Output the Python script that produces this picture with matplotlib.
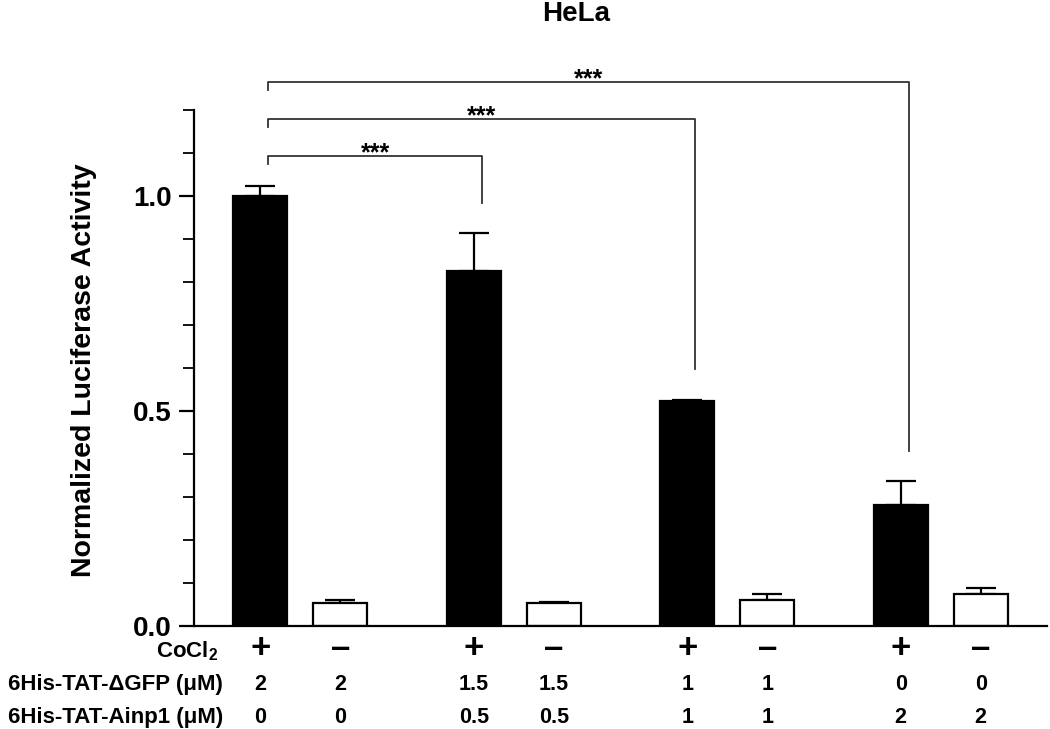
import matplotlib
matplotlib.use("Agg")
import matplotlib.pyplot as plt
import numpy as np

plt.rcParams['font.family'] = ['Liberation Sans', 'DejaVu Sans']
plt.rcParams['mathtext.fontset'] = 'custom'
plt.rcParams['mathtext.rm'] = 'Liberation Sans:bold'
plt.rcParams['mathtext.bf'] = 'Liberation Sans:bold'
plt.rcParams['mathtext.it'] = 'Liberation Sans:bold'

# ---- data ----
title = "HeLa"
ylabel = "Normalized Luciferase Activity"
cocl2 = ['+', '–', '+', '–', '+', '–', '+', '–']
gfp_conc = ['2', '2', '1.5', '1.5', '1', '1', '0', '0']
ainp1_conc = ['0', '0', '0.5', '0.5', '1', '1', '2', '2']
row_labels = ["CoCl$_2$", "6His-TAT-ΔGFP (μM)", "6His-TAT-Ainp1 (μM)"]
means = [1.000, 0.052, 0.826, 0.052, 0.523, 0.060, 0.280, 0.073]
errors = [0.023, 0.007, 0.088, 0.003, 0.003, 0.014, 0.056, 0.014]
comparisons = [(0, 2), (0, 4), (0, 6)]
comparison_labels = ['***', '***', '***']

# ---- layout ----
fig = plt.figure(figsize=(10.5, 7.29), dpi=100)
ax = fig.add_axes([194/1050, 1 - 625.7/729, (1047-194)/1050, (625.7-109.7)/729])

n = len(means)
pair_step = 2.67
x = np.array([(i // 2) * pair_step + (i % 2) for i in range(n)])
face = ['black' if c == '+' else 'white' for c in cocl2]

ax.bar(x, means, width=0.675, color=face, edgecolor='black', linewidth=1.6, zorder=2)
ax.errorbar(x, means, yerr=[np.zeros(n), errors], fmt='none', ecolor='black',
            elinewidth=1.6, capsize=11, capthick=1.6, zorder=1)

ax.set_xlim(-0.83, x[-1] + 0.83)
ax.set_ylim(0, 1.2)
ax.set_yticks([0, 0.5, 1.0])
ax.set_yticklabels(['0.0', '0.5', '1.0'], fontsize=20, fontweight='bold')
ax.set_yticks(np.arange(0, 1.21, 0.1), minor=True)
ax.tick_params(axis='y', which='major', length=11, width=1.6, pad=5)
ax.tick_params(axis='y', which='minor', length=8, width=1.3)
ax.set_xticks([])
for s in ['top', 'right']:
    ax.spines[s].set_visible(False)
ax.spines['left'].set_linewidth(1.6)
ax.spines['bottom'].set_linewidth(1.6)

ax.set_ylabel(ylabel, fontsize=20.5, fontweight='bold')
ax.yaxis.set_label_coords(-0.114, 0.496)

fig.text(576/1050, 1 - 14/729, title, ha='center', va='center', fontsize=20, fontweight='bold')

# significance brackets
levels = [1.093, 1.179, 1.265]
off = 0.1
for (a, b), lab, lv in zip(comparisons, comparison_labels, levels):
    xa, xb = x[a] + off, x[b] + off
    end = means[b] + errors[b] + 0.07
    ax.plot([xa, xa, xb, xb], [lv - 0.019, lv, lv, end], color='#333333', lw=1.3,
            clip_on=False, zorder=3)
    ax.annotate(lab, xy=((xa + xb) / 2, lv), xytext=(0, -3.5), textcoords='offset points',
                ha='center', va='baseline', fontsize=18, fontweight='bold',
                annotation_clip=False)

# condition table below axis
tr = ax.get_xaxis_transform()
row_y = [-0.044, -0.113, -0.178]
rows = [cocl2, gfp_conc, ainp1_conc]
for r, (vals, yy) in enumerate(zip(rows, row_y)):
    for xi, v in zip(x, vals):
        fs = 25 if r == 0 else 15.5
        ax.text(xi, yy, v, transform=tr, ha='center', va='center', fontsize=fs,
                fontweight='bold', clip_on=False)
label_right = [218/1050, 223/1050, 223/1050]
label_y = [-0.050, -0.113, -0.178]
label_fs = [16, 16, 16]
for lab, yy, xr, fs in zip(row_labels, label_y, label_right, label_fs):
    fig.text(xr, 1 - (625.7 - yy * 516) / 729, lab, ha='right', va='center',
             fontsize=fs, fontweight='bold')

fig.savefig('out.png', dpi=100)
